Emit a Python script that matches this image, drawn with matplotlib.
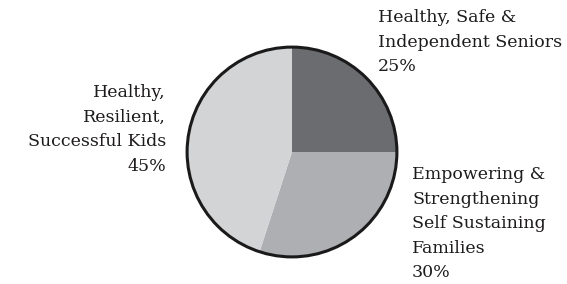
import matplotlib
matplotlib.use("Agg")
import matplotlib.pyplot as plt
from matplotlib.patches import Circle

categories = ["Healthy, Safe &\nIndependent Seniors",
              "Empowering &\nStrengthening\nSelf Sustaining\nFamilies",
              "Healthy,\nResilient,\nSuccessful Kids"]
values = [25, 30, 45]
colors = ["#6b6c70", "#aeafb2", "#d3d4d6"]

W, H = 567, 284
fig = plt.figure(figsize=(W / 100, H / 100), dpi=100)
plt.rcParams["font.family"] = ["DejaVu Serif"]

# circle centre ~ (292, 152) px, radius ~107 px
cx, cy, r = 292, 152, 107
ax = fig.add_axes([(cx - r) / W, (H - cy - r) / H, 2 * r / W, 2 * r / H])
ax.pie(values, colors=colors, startangle=90, counterclock=False,
       radius=1, wedgeprops=dict(linewidth=0))
ax.add_patch(Circle((0, 0), 1, fill=False, edgecolor="#1a1a1a", linewidth=2.2))
ax.set_xlim(-1.02, 1.02)
ax.set_ylim(-1.02, 1.02)
ax.set_aspect("equal")
ax.axis("off")

labels = [f"{c}\n{v}%" for c, v in zip(categories, values)]
fs = 12.5
txt = dict(fontsize=fs, color="#1e1b1c", linespacing=1.58)
fig.text(378 / W, 1 - 9 / H, labels[0], ha="left", va="top", **txt)
fig.text(412 / W, 1 - 166 / H, labels[1], ha="left", va="top", **txt)
fig.text(166 / W, 1 - 84 / H, labels[2], ha="right", va="top",
         multialignment="right", **txt)

fig.savefig("out.png", dpi=100)
